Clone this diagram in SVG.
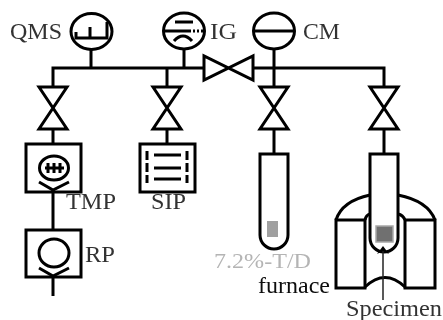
<svg xmlns="http://www.w3.org/2000/svg" width="443" height="320" viewBox="0 0 443 320">
<style>
.s{fill:none;stroke:#000;stroke-width:3}
.t{font-family:"Liberation Serif","Times New Roman",serif;font-size:23px;fill:#333}
.k{fill:#111}
</style>
<defs><filter id="b" x="-5%" y="-5%" width="110%" height="110%"><feGaussianBlur stdDeviation="0.55"/></filter>
<g id="valve"><path class="s" d="M-14 0H14L-14 42H14Z"/></g></defs>
<rect width="443" height="320" fill="#fff"/>
<g filter="url(#b)">
<g id="connectors">
<path class="s" d="M53 87V68H204M253 68H384V87M91 50V68M184 49V68M167 68V87M274 49V87M53 129V144M167 129V144M274 129V154M384 129V154M53 190V230M53 276V296"/>
</g>
<g id="v-left"><use href="#valve" x="53" y="87"/></g>
<g id="v-sip"><use href="#valve" x="167" y="87"/></g>
<g id="v-td"><use href="#valve" x="274" y="87"/></g>
<g id="v-furnace"><use href="#valve" x="384" y="87"/></g>
<g id="v-main"><path class="s" d="M204 56V80L253 56V80Z"/></g>
<g id="qms">
<ellipse class="s" cx="91.500" cy="31.500" rx="20.500" ry="18"/>
<path class="s" d="M76 32V38H107V22M90 27V38"/>
<text class="t" x="10" y="39" textLength="52" lengthAdjust="spacingAndGlyphs">QMS</text>
</g>
<g id="ig">
<ellipse class="s" cx="184" cy="31" rx="20.500" ry="18"/>
<path class="s" d="M175 22H193M163 31H189M174 41Q183 31 192 41"/>
<path class="s" stroke-dasharray="2 2" d="M189 31H204"/>
<text class="t" x="210" y="39" textLength="27" lengthAdjust="spacingAndGlyphs">IG</text>
</g>
<g id="cm">
<ellipse class="s" cx="274" cy="31" rx="20.500" ry="18"/>
<path class="s" d="M253 31H295"/>
<text class="t" x="303" y="39" textLength="37" lengthAdjust="spacingAndGlyphs">CM</text>
</g>
<g id="tmp">
<rect class="s" x="26" y="144" width="55" height="48"/>
<ellipse class="s" cx="54" cy="168" rx="14.500" ry="12"/>
<path class="s" d="M45 168H64M48 163V173M54 163V173M60 163V173"/>
<path class="s" d="M39 182L53 190L69 182"/>
<text class="t" x="66" y="209" textLength="50" lengthAdjust="spacingAndGlyphs">TMP</text>
</g>
<g id="sip">
<rect class="s" x="140" y="144" width="55" height="48"/>
<path class="s" d="M147 151V160M147 163V172M147 175V183M187 151V160M187 163V172M187 175V183M154 155H181M154 168H181M154 179H181"/>
<text class="t" x="151" y="209" textLength="35" lengthAdjust="spacingAndGlyphs">SIP</text>
</g>
<g id="rp">
<rect class="s" x="26" y="230" width="55" height="47"/>
<ellipse class="s" cx="54" cy="253" rx="15" ry="14"/>
<path class="s" d="M39 268L53 276L69 268"/>
<text class="t" x="85" y="262" textLength="30" lengthAdjust="spacingAndGlyphs">RP</text>
</g>
<g id="tube-td">
<path class="s" d="M260 154H288V235A14 14 0 0 1 260 235Z"/>
<rect x="267" y="221" width="11" height="16" fill="#a0a0a0"/>
<text x="214" y="268" textLength="97" lengthAdjust="spacingAndGlyphs" style="font-family:'Liberation Serif','Times New Roman',serif;font-size:21px;fill:#b4b4b4">7.2%-T/D</text>
</g>
<g id="furnace">
<path class="s" d="M336 220Q342 201 370 195M398 195Q428 201 435 220M365 220Q366 215 370 214M398 214Q403 215 405 220M365 287Q385 268 405 287"/>
<rect class="s" x="336" y="220" width="29" height="68"/>
<rect class="s" x="405" y="220" width="30" height="68"/>
<path class="s" d="M370 154H398V238A14 14 0 0 1 370 238Z"/>
<text class="t k" x="258" y="293" textLength="72" lengthAdjust="spacingAndGlyphs">furnace</text>
</g>
<g id="specimen">
<rect x="376" y="226" width="17" height="16" fill="#707070" stroke="#a8a8a8" stroke-width="1.500"/>
<path d="M383 300V248" fill="none" stroke="#222" stroke-width="1.500"/>
<path d="M383 246L389 254L383 251L377 254Z" fill="#000"/>
<text class="t" x="346" y="316" textLength="96" lengthAdjust="spacingAndGlyphs">Specimen</text>
</g>
</g>
</svg>
